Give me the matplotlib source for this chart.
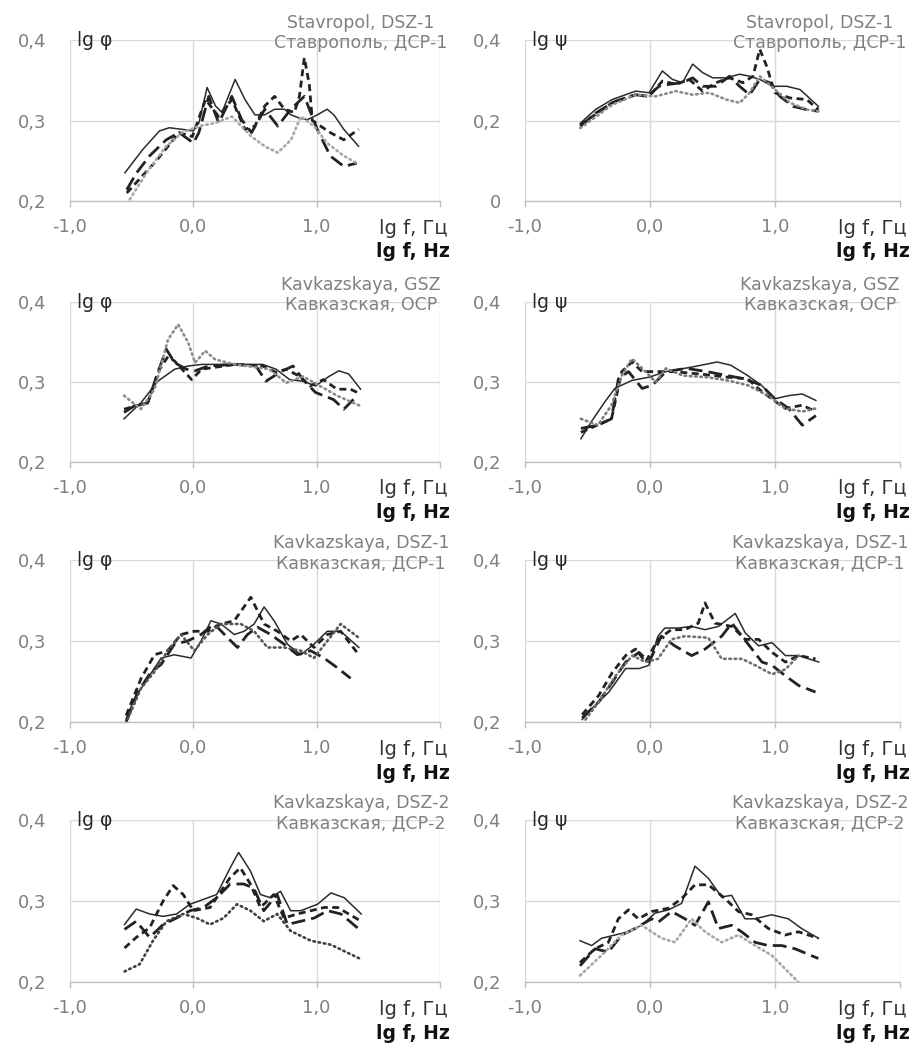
import matplotlib
matplotlib.use("Agg")
import matplotlib.pyplot as plt
import matplotlib.transforms as mtransforms

plt.rcParams['font.family'] = ['DejaVu Sans']

# ---------------- DATA ----------------
# x tick labels
x_ticks = [-1.0, 0.0, 1.0, 2.0]
x_tick_labels = ['-1,0', '0,0', '1,0', '']
y_ticks_a = [0.2, 0.3, 0.4]
y_tick_labels_a = ['0,2', '0,3', '0,4']
y_ticks_b = [0.0, 0.2, 0.4]
y_tick_labels_b = ['0', '0,2', '0,4']

titles_en = ['Stavropol, DSZ-1', 'Stavropol, DSZ-1',
             'Kavkazskaya, GSZ', 'Kavkazskaya, GSZ',
             'Kavkazskaya, DSZ-1', 'Kavkazskaya, DSZ-1',
             'Kavkazskaya, DSZ-2', 'Kavkazskaya, DSZ-2']
titles_ru = ['Ставрополь, ДСР-1', 'Ставрополь, ДСР-1',
             'Кавказская, ОСР', 'Кавказская, ОСР',
             'Кавказская, ДСР-1', 'Кавказская, ДСР-1',
             'Кавказская, ДСР-2', 'Кавказская, ДСР-2']
y_names = ['lg φ', 'lg ψ'] * 4

# Panel 1: Stavropol DSZ-1, lg phi
p1_solid_x = [-0.555, -0.41, -0.275, -0.195, -0.09, 0.0, 0.045, 0.112, 0.18, 0.232, 0.339, 0.419, 0.499, 0.579, 0.659, 0.739, 0.792, 0.859, 0.925, 1.005, 1.085, 1.14, 1.22, 1.34]
p1_solid_y = [0.235, 0.264, 0.287, 0.291, 0.289, 0.287, 0.297, 0.341, 0.318, 0.31, 0.351, 0.326, 0.307, 0.307, 0.314, 0.314, 0.307, 0.303, 0.301, 0.307, 0.314, 0.307, 0.289, 0.268]
p1_long_x = [-0.54, -0.46, -0.355, -0.22, -0.115, -0.035, 0.0, 0.045, 0.125, 0.205, 0.312, 0.392, 0.472, 0.579, 0.685, 0.79, 0.9, 1.005, 1.11, 1.22, 1.325]
p1_long_y = [0.214, 0.235, 0.256, 0.276, 0.285, 0.276, 0.272, 0.285, 0.33, 0.297, 0.33, 0.301, 0.285, 0.314, 0.293, 0.314, 0.33, 0.289, 0.256, 0.243, 0.247]
p1_short_x = [-0.54, -0.3, -0.115, -0.008, 0.099, 0.205, 0.312, 0.419, 0.499, 0.579, 0.659, 0.739, 0.819, 0.86, 0.9, 0.94, 0.965, 1.032, 1.11, 1.22, 1.34]
p1_short_y = [0.21, 0.25, 0.285, 0.28, 0.326, 0.305, 0.326, 0.289, 0.293, 0.318, 0.33, 0.314, 0.31, 0.33, 0.378, 0.345, 0.30, 0.293, 0.285, 0.276, 0.289]
p1_dot_x = [-0.515, -0.38, -0.22, -0.09, 0.045, 0.18, 0.312, 0.472, 0.579, 0.685, 0.792, 0.872, 0.979, 1.085, 1.22, 1.325]
p1_dot_y = [0.202, 0.235, 0.268, 0.285, 0.293, 0.297, 0.305, 0.28, 0.268, 0.26, 0.276, 0.305, 0.293, 0.272, 0.256, 0.247]

# Panel 2: Stavropol DSZ-1, lg psi
p2_solid_x = [-0.558, -0.437, -0.303, -0.115, -0.008, 0.099, 0.18, 0.26, 0.341, 0.421, 0.502, 0.609, 0.717, 0.797, 0.878, 0.985, 1.093, 1.2, 1.348]
p2_solid_y = [0.193, 0.227, 0.252, 0.273, 0.269, 0.323, 0.302, 0.294, 0.34, 0.319, 0.306, 0.306, 0.315, 0.31, 0.302, 0.285, 0.285, 0.277, 0.235]
p2_long_x = [-0.558, -0.437, -0.276, -0.115, -0.02, 0.072, 0.153, 0.26, 0.341, 0.421, 0.529, 0.636, 0.717, 0.797, 0.878, 0.958, 1.039, 1.146, 1.254, 1.348]
p2_long_y = [0.185, 0.218, 0.248, 0.264, 0.26, 0.285, 0.29, 0.294, 0.306, 0.285, 0.285, 0.31, 0.285, 0.264, 0.302, 0.294, 0.26, 0.235, 0.227, 0.223]
p2_short_x = [-0.558, -0.303, -0.115, -0.008, 0.099, 0.207, 0.314, 0.421, 0.529, 0.636, 0.743, 0.824, 0.878, 0.932, 0.999, 1.12, 1.254, 1.348]
p2_short_y = [0.189, 0.244, 0.264, 0.26, 0.298, 0.29, 0.302, 0.273, 0.294, 0.306, 0.294, 0.31, 0.377, 0.336, 0.269, 0.256, 0.252, 0.227]
p2_dot_x = [-0.558, -0.303, -0.115, 0.045, 0.207, 0.341, 0.475, 0.609, 0.717, 0.797, 0.878, 0.985, 1.12, 1.254, 1.348]
p2_dot_y = [0.181, 0.239, 0.264, 0.26, 0.273, 0.264, 0.269, 0.252, 0.244, 0.269, 0.31, 0.281, 0.244, 0.227, 0.223]

# Panel 3: Kavkazskaya GSZ, lg phi
p3_solid_x = [-0.562, -0.425, -0.288, -0.151, -0.041, 0.068, 0.342, 0.562, 0.671, 0.781, 0.89, 0.99, 1.1, 1.18, 1.26, 1.356]
p3_solid_y = [0.254, 0.274, 0.301, 0.316, 0.32, 0.322, 0.322, 0.322, 0.316, 0.303, 0.301, 0.295, 0.307, 0.314, 0.31, 0.291]
p3_long_x = [-0.562, -0.479, -0.37, -0.288, -0.219, -0.151, -0.055, 0.014, 0.123, 0.342, 0.507, 0.589, 0.699, 0.808, 0.89, 0.99, 1.137, 1.22, 1.329]
p3_long_y = [0.262, 0.27, 0.274, 0.312, 0.341, 0.324, 0.316, 0.314, 0.32, 0.322, 0.32, 0.301, 0.312, 0.32, 0.303, 0.287, 0.278, 0.266, 0.283]
p3_short_x = [-0.562, -0.37, -0.274, -0.205, -0.151, -0.014, 0.068, 0.342, 0.562, 0.671, 0.753, 0.863, 0.945, 1.055, 1.164, 1.274, 1.356]
p3_short_y = [0.266, 0.274, 0.316, 0.332, 0.326, 0.303, 0.316, 0.322, 0.32, 0.312, 0.316, 0.307, 0.295, 0.303, 0.291, 0.291, 0.285]
p3_dot_x = [-0.562, -0.425, -0.315, -0.205, -0.123, -0.041, 0.014, 0.096, 0.178, 0.342, 0.616, 0.753, 0.89, 1.027, 1.164, 1.356]
p3_dot_y = [0.283, 0.266, 0.291, 0.353, 0.372, 0.349, 0.324, 0.339, 0.328, 0.322, 0.316, 0.299, 0.307, 0.295, 0.283, 0.27]

# Panel 4: Kavkazskaya GSZ, lg psi
p4_solid_x = [-0.553, -0.471, -0.362, -0.281, -0.144, -0.008, 0.128, 0.346, 0.537, 0.646, 0.782, 0.891, 0.999, 1.109, 1.218, 1.327]
p4_solid_y = [0.229, 0.25, 0.275, 0.292, 0.302, 0.306, 0.313, 0.319, 0.325, 0.321, 0.308, 0.296, 0.279, 0.283, 0.285, 0.277]
p4_long_x = [-0.553, -0.417, -0.308, -0.253, -0.172, -0.063, 0.019, 0.128, 0.292, 0.455, 0.619, 0.755, 0.891, 0.999, 1.109, 1.218, 1.327]
p4_long_y = [0.242, 0.246, 0.254, 0.304, 0.313, 0.292, 0.296, 0.313, 0.317, 0.313, 0.308, 0.304, 0.296, 0.279, 0.267, 0.246, 0.258]
p4_short_x = [-0.553, -0.308, -0.226, -0.144, -0.063, 0.019, 0.183, 0.4, 0.619, 0.782, 0.864, 0.973, 1.082, 1.218, 1.327]
p4_short_y = [0.237, 0.254, 0.313, 0.325, 0.313, 0.313, 0.313, 0.31, 0.306, 0.304, 0.292, 0.279, 0.267, 0.271, 0.263]
p4_dot_x = [-0.553, -0.417, -0.308, -0.226, -0.144, -0.063, 0.046, 0.128, 0.264, 0.455, 0.619, 0.782, 0.945, 1.082, 1.218, 1.327]
p4_dot_y = [0.254, 0.246, 0.271, 0.308, 0.329, 0.317, 0.3, 0.317, 0.308, 0.306, 0.302, 0.296, 0.283, 0.267, 0.263, 0.267]

# Panel 5: Kavkazskaya DSZ-1, lg phi
p5_solid_x = [-0.545, -0.477, -0.369, -0.261, -0.154, -0.019, 0.062, 0.143, 0.224, 0.332, 0.412, 0.493, 0.574, 0.655, 0.763, 0.871, 0.978, 1.086, 1.194, 1.342]
p5_solid_y = [0.204, 0.229, 0.254, 0.279, 0.283, 0.279, 0.3, 0.325, 0.321, 0.308, 0.312, 0.321, 0.342, 0.325, 0.296, 0.283, 0.296, 0.312, 0.312, 0.292]
p5_long_x = [-0.545, -0.45, -0.342, -0.261, -0.154, -0.046, 0.062, 0.17, 0.278, 0.358, 0.439, 0.52, 0.628, 0.736, 0.844, 0.951, 1.059, 1.167, 1.275]
p5_long_y = [0.2, 0.237, 0.262, 0.271, 0.296, 0.3, 0.308, 0.321, 0.304, 0.292, 0.308, 0.317, 0.308, 0.296, 0.283, 0.288, 0.279, 0.267, 0.254]
p5_short_x = [-0.545, -0.423, -0.315, -0.208, -0.1, 0.008, 0.116, 0.224, 0.332, 0.466, 0.574, 0.682, 0.79, 0.871, 0.978, 1.086, 1.194, 1.342]
p5_short_y = [0.208, 0.254, 0.283, 0.288, 0.308, 0.312, 0.312, 0.321, 0.325, 0.354, 0.321, 0.312, 0.3, 0.308, 0.292, 0.308, 0.312, 0.283]
p5_dot_x = [-0.531, -0.423, -0.315, -0.208, -0.1, 0.008, 0.116, 0.224, 0.385, 0.493, 0.601, 0.736, 0.871, 0.978, 1.086, 1.194, 1.342]
p5_dot_y = [0.204, 0.242, 0.262, 0.288, 0.308, 0.288, 0.308, 0.321, 0.321, 0.312, 0.292, 0.292, 0.288, 0.279, 0.3, 0.321, 0.304]

# Panel 6: Kavkazskaya DSZ-1, lg psi
p6_solid_x = [-0.543, -0.463, -0.329, -0.195, -0.088, -0.008, 0.064, 0.118, 0.225, 0.333, 0.44, 0.547, 0.682, 0.762, 0.869, 0.976, 1.083, 1.19, 1.35]
p6_solid_y = [0.203, 0.217, 0.237, 0.266, 0.266, 0.27, 0.306, 0.316, 0.316, 0.318, 0.314, 0.318, 0.334, 0.31, 0.294, 0.298, 0.282, 0.282, 0.274]
p6_long_x = [-0.543, -0.409, -0.302, -0.195, -0.088, -0.008, 0.091, 0.198, 0.333, 0.44, 0.574, 0.655, 0.735, 0.816, 0.896, 0.976, 1.083, 1.19, 1.324]
p6_long_y = [0.205, 0.225, 0.249, 0.274, 0.286, 0.274, 0.306, 0.294, 0.282, 0.29, 0.306, 0.322, 0.306, 0.29, 0.274, 0.27, 0.257, 0.245, 0.237]
p6_short_x = [-0.543, -0.409, -0.302, -0.195, -0.115, -0.035, 0.064, 0.171, 0.278, 0.386, 0.44, 0.52, 0.655, 0.762, 0.869, 0.976, 1.083, 1.19, 1.324]
p6_short_y = [0.209, 0.233, 0.261, 0.282, 0.29, 0.274, 0.302, 0.314, 0.314, 0.322, 0.347, 0.322, 0.318, 0.302, 0.302, 0.286, 0.274, 0.282, 0.278]
p6_dot_x = [-0.516, -0.409, -0.275, -0.142, -0.035, 0.064, 0.171, 0.278, 0.466, 0.574, 0.735, 0.842, 0.976, 1.083, 1.19]
p6_dot_y = [0.203, 0.225, 0.257, 0.282, 0.274, 0.278, 0.302, 0.306, 0.304, 0.278, 0.278, 0.27, 0.259, 0.265, 0.282]

# Panel 7: Kavkazskaya DSZ-2, lg phi
p7_solid_x = [-0.558, -0.463, -0.354, -0.245, -0.136, -0.027, 0.082, 0.19, 0.299, 0.367, 0.463, 0.544, 0.626, 0.707, 0.789, 0.871, 1.007, 1.116, 1.224, 1.361]
p7_solid_y = [0.271, 0.29, 0.284, 0.281, 0.284, 0.296, 0.302, 0.308, 0.341, 0.36, 0.337, 0.308, 0.304, 0.312, 0.288, 0.288, 0.296, 0.31, 0.304, 0.284]
p7_long_x = [-0.558, -0.463, -0.354, -0.245, -0.136, -0.027, 0.082, 0.19, 0.299, 0.408, 0.49, 0.571, 0.68, 0.762, 0.871, 0.98, 1.088, 1.197, 1.361]
p7_long_y = [0.265, 0.275, 0.255, 0.271, 0.279, 0.288, 0.292, 0.304, 0.321, 0.321, 0.316, 0.288, 0.308, 0.271, 0.275, 0.279, 0.288, 0.284, 0.263]
p7_short_x = [-0.558, -0.463, -0.354, -0.245, -0.163, -0.082, 0.0, 0.136, 0.299, 0.381, 0.463, 0.544, 0.653, 0.735, 0.844, 0.952, 1.061, 1.17, 1.361]
p7_short_y = [0.242, 0.255, 0.267, 0.3, 0.319, 0.308, 0.288, 0.292, 0.329, 0.341, 0.321, 0.292, 0.308, 0.279, 0.284, 0.288, 0.292, 0.292, 0.275]
p7_dot_x = [-0.558, -0.435, -0.327, -0.218, -0.082, 0.027, 0.136, 0.245, 0.354, 0.463, 0.571, 0.68, 0.789, 0.952, 1.116, 1.361]
p7_dot_y = [0.213, 0.222, 0.251, 0.275, 0.284, 0.279, 0.271, 0.279, 0.296, 0.288, 0.275, 0.284, 0.263, 0.251, 0.246, 0.228]

# Panel 8: Kavkazskaya DSZ-2, lg psi
p8_solid_x = [-0.56, -0.467, -0.387, -0.28, -0.173, -0.067, 0.04, 0.147, 0.253, 0.36, 0.467, 0.573, 0.653, 0.76, 0.84, 0.973, 1.107, 1.213, 1.347]
p8_solid_y = [0.251, 0.245, 0.254, 0.258, 0.262, 0.27, 0.285, 0.289, 0.297, 0.343, 0.328, 0.305, 0.307, 0.278, 0.278, 0.283, 0.278, 0.266, 0.254]
p8_long_x = [-0.56, -0.44, -0.333, -0.227, -0.12, 0.013, 0.067, 0.173, 0.28, 0.36, 0.467, 0.547, 0.653, 0.733, 0.84, 0.947, 1.053, 1.16, 1.347]
p8_long_y = [0.22, 0.241, 0.237, 0.258, 0.266, 0.278, 0.274, 0.287, 0.278, 0.27, 0.299, 0.266, 0.27, 0.262, 0.249, 0.245, 0.245, 0.241, 0.229]
p8_short_x = [-0.56, -0.44, -0.333, -0.253, -0.173, -0.093, 0.013, 0.147, 0.253, 0.36, 0.467, 0.6, 0.707, 0.813, 0.947, 1.08, 1.187, 1.347]
p8_short_y = [0.224, 0.241, 0.249, 0.278, 0.289, 0.278, 0.287, 0.291, 0.303, 0.32, 0.32, 0.303, 0.287, 0.283, 0.266, 0.258, 0.262, 0.254]
p8_dot_x = [-0.56, -0.387, -0.227, -0.067, 0.093, 0.2, 0.333, 0.44, 0.573, 0.707, 0.84, 0.973, 1.16, 1.187]
p8_dot_y = [0.208, 0.233, 0.258, 0.27, 0.254, 0.249, 0.278, 0.262, 0.249, 0.258, 0.245, 0.233, 0.204, 0.2]

panels = [
    (p1_solid_x, p1_solid_y, p1_long_x, p1_long_y, p1_short_x, p1_short_y, p1_dot_x, p1_dot_y),
    (p2_solid_x, p2_solid_y, p2_long_x, p2_long_y, p2_short_x, p2_short_y, p2_dot_x, p2_dot_y),
    (p3_solid_x, p3_solid_y, p3_long_x, p3_long_y, p3_short_x, p3_short_y, p3_dot_x, p3_dot_y),
    (p4_solid_x, p4_solid_y, p4_long_x, p4_long_y, p4_short_x, p4_short_y, p4_dot_x, p4_dot_y),
    (p5_solid_x, p5_solid_y, p5_long_x, p5_long_y, p5_short_x, p5_short_y, p5_dot_x, p5_dot_y),
    (p6_solid_x, p6_solid_y, p6_long_x, p6_long_y, p6_short_x, p6_short_y, p6_dot_x, p6_dot_y),
    (p7_solid_x, p7_solid_y, p7_long_x, p7_long_y, p7_short_x, p7_short_y, p7_dot_x, p7_dot_y),
    (p8_solid_x, p8_solid_y, p8_long_x, p8_long_y, p8_short_x, p8_short_y, p8_dot_x, p8_dot_y),
]

# dotted-line colour per panel (style)
dot_colors = ['#a6a6a6', '#8c8c8c', '#8c8c8c', '#7a7a7a', '#555555', '#707070', '#404040', '#a6a6a6']

# ---------------- LAYOUT ----------------
fig = plt.figure(figsize=(9.22, 10.48), dpi=100, facecolor='white')
W, H = 922.0, 1048.0
col_px = [(70, 440), (525, 900)]
row_px = [(40, 201), (302, 462), (560, 722), (820, 982)]

grid_c = '#d9d9d9'
tick_c = '#7f7f7f'

for i, data in enumerate(panels):
    r, c = divmod(i, 2)
    x0, x1 = col_px[c]
    yt, yb = row_px[r]
    ax = fig.add_axes([x0 / W, 1 - yb / H, (x1 - x0) / W, (yb - yt) / H])
    ax.set_facecolor('none')
    ax.set_xlim(-1, 2)
    if i == 1:
        ax.set_ylim(0.0, 0.4)
        ax.set_yticks(y_ticks_b)
        ax.set_yticklabels(y_tick_labels_b)
    else:
        ax.set_ylim(0.2, 0.4)
        ax.set_yticks(y_ticks_a)
        ax.set_yticklabels(y_tick_labels_a)
    ax.set_xticks(x_ticks)
    ax.set_xticklabels(x_tick_labels)
    for s in ['top', 'right', 'left']:
        ax.spines[s].set_visible(False)
    ax.spines['bottom'].set_color('#bfbfbf')
    ax.spines['bottom'].set_linewidth(1.0)
    ax.grid(True, color=grid_c, linewidth=1.0)
    ax.set_axisbelow(True)
    ax.tick_params(axis='x', direction='out', length=4, width=1.0, color='#bfbfbf',
                   labelcolor=tick_c, labelsize=13, pad=8)
    ax.tick_params(axis='y', length=0, labelcolor=tick_c, labelsize=13, pad=17)

    sx, sy, lx, ly, hx, hy, dx, dy = data
    ax.plot(sx, sy, color='#2b2b2b', lw=1.1, ls='-', solid_joinstyle='round')
    ax.plot(lx, ly, color='#222222', lw=2.0, dashes=(5, 2.2))
    ax.plot(hx, hy, color='#222222', lw=2.0, dashes=(2.5, 1.6))
    ax.plot(dx, dy, color=dot_colors[i], lw=1.9, dashes=(0.6, 1.4), dash_capstyle='round')

    trans = mtransforms.blended_transform_factory(ax.transData, ax.transAxes)
    ax.text(-0.94, 0.995, y_names[i], transform=trans,
            ha='left', va='center', fontsize=13.5, color='#262626')
    ax.text(1.36, 1.105, titles_en[i], transform=trans, ha='center', va='center',
            fontsize=12.5, color='#808080')
    ax.text(1.36, 0.98, titles_ru[i], transform=trans, ha='center', va='center',
            fontsize=12.5, color='#808080')
    ax.text(1.78, -0.168, 'lg f, Гц', transform=trans, ha='center', va='center',
            fontsize=14, color='#333333')
    ax.text(1.78, -0.315, 'lg f, Hz', transform=trans, ha='center', va='center',
            fontsize=13.5, color='#111111', fontweight='bold')

fig.savefig('out.png', dpi=100, facecolor='white')
